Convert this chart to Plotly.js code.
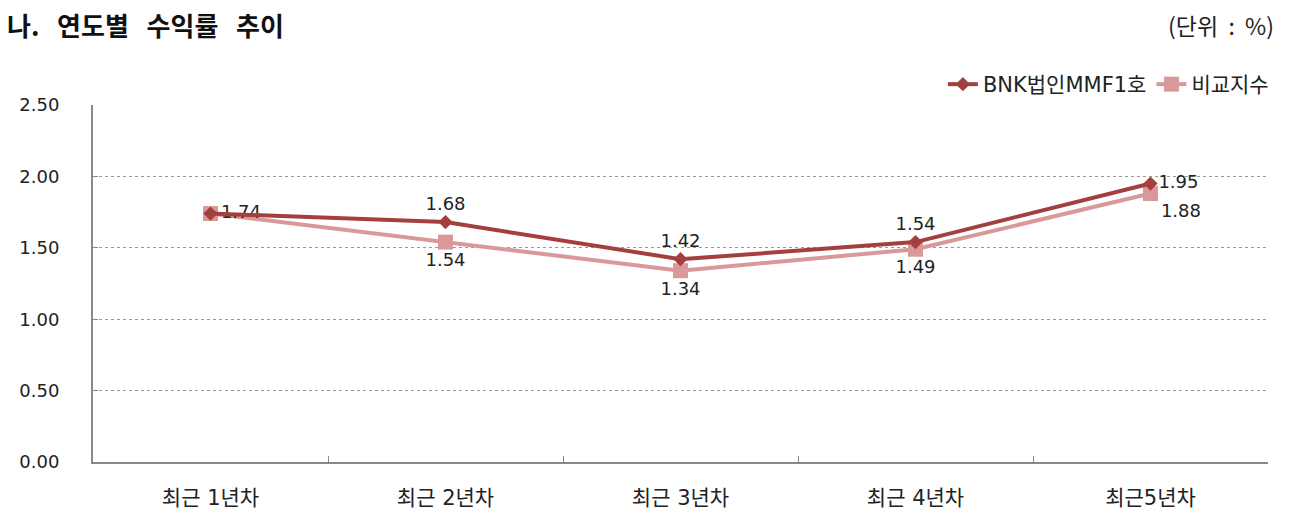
<!DOCTYPE html>
<html>
<head>
<meta charset="utf-8">
<script src="https://cdn.plot.ly/plotly-3.0.1.min.js"></script>
<style>
html,body{margin:0;padding:0;background:#fff;}
#chart{width:1291px;height:515px;}
</style>
</head>
<body>
<div id="chart"></div>
<script>
const categories = ["최근 1년차", "최근 2년차", "최근 3년차", "최근 4년차", "최근5년차"];
const bnkValues = [1.74, 1.68, 1.42, 1.54, 1.95];
const compareValues = [1.74, 1.54, 1.34, 1.49, 1.88];
const seriesNames = ["BNK법인MMF1호", "비교지수"];
const yTicks = [0, 0.5, 1.0, 1.5, 2.0, 2.5];

const FONT = "'DejaVu Sans','Noto Sans CJK KR', sans-serif";
const KFONT = "'Noto Sans CJK KR', sans-serif";
const bnkColor = "#A3403E";
const cmpColor = "#D9999A";

const bnkText = bnkValues.map((v, i) => i === 0 ? "" : v.toFixed(2));
const cmpText = compareValues.map(v => v.toFixed(2));
const bnkPos = ["top center", "top center", "top center", "top center", "middle right"];
const cmpPos = ["middle right", "bottom center", "bottom center", "bottom center", "bottom right"];

const traces = [
  {
    x: categories, y: compareValues, name: seriesNames[1], type: "scatter",
    mode: "lines+markers+text",
    line: {color: cmpColor, width: 4},
    marker: {symbol: "square", size: 15, color: cmpColor},
    text: cmpText, textposition: cmpPos,
    textfont: {family: FONT, size: 18, color: "#222"},
    cliponaxis: false, legendrank: 2
  },
  {
    x: categories, y: bnkValues, name: seriesNames[0], type: "scatter",
    mode: "lines+markers+text",
    line: {color: bnkColor, width: 4},
    marker: {symbol: "diamond", size: 11, color: bnkColor},
    text: bnkText, textposition: bnkPos,
    textfont: {family: FONT, size: 18, color: "#222"},
    cliponaxis: false, legendrank: 1
  }
];

const layout = {
  width: 1291, height: 515,
  paper_bgcolor: "#fff", plot_bgcolor: "#fff",
  margin: {l: 93, r: 23, t: 105, b: 53},
  font: {family: FONT, size: 18, color: "#222"},
  showlegend: true,
  legend: {
    orientation: "h", x: 1.005, xanchor: "right", y: 1.0, yanchor: "bottom",
    font: {family: FONT, size: 21, color: "#222"},
    traceorder: "normal", bgcolor: "rgba(0,0,0,0)", tracegroupgap: 0
  },
  xaxis: {
    type: "category", tickson: "boundaries", ticks: "inside", ticklen: 6,
    tickcolor: "#888", showline: true, linecolor: "#888", linewidth: 2,
    showgrid: false, ticklabelstandoff: 16, range: [-0.5, 4.5],
    tickfont: {family: FONT, size: 21, color: "#222"}
  },
  yaxis: {
    range: [0, 2.5], tickvals: yTicks, ticktext: yTicks.map(v => v.toFixed(2)),
    ticks: "inside", ticklen: 5, tickcolor: "#888",
    showline: true, linecolor: "#888", linewidth: 2,
    showgrid: true, gridcolor: "#9a9a9a", griddash: "dot", gridwidth: 1,
    zeroline: false, ticklabelstandoff: 28,
    tickfont: {family: FONT, size: 18, color: "#222"}
  },
  annotations: [
    {text: "<b>나.&nbsp;&nbsp;&nbsp;연도별&nbsp;&nbsp;&nbsp;수익률&nbsp;&nbsp;&nbsp;추이</b>", xref: "paper", yref: "paper",
     x: -88/1175, y: 1 + 80/357, xanchor: "left", yanchor: "middle", showarrow: false,
     font: {family: KFONT, size: 26, color: "#111"}},
    {text: "(단위&nbsp;&nbsp;:&nbsp;&nbsp;%)", xref: "paper", yref: "paper",
     x: 1 + 8/1175, y: 1 + 80/357, xanchor: "right", yanchor: "middle", showarrow: false,
     font: {family: KFONT, size: 23, color: "#222"}}
  ]
};

Plotly.newPlot("chart", traces, layout, {displayModeBar: false, staticPlot: true});
</script>
</body>
</html>
